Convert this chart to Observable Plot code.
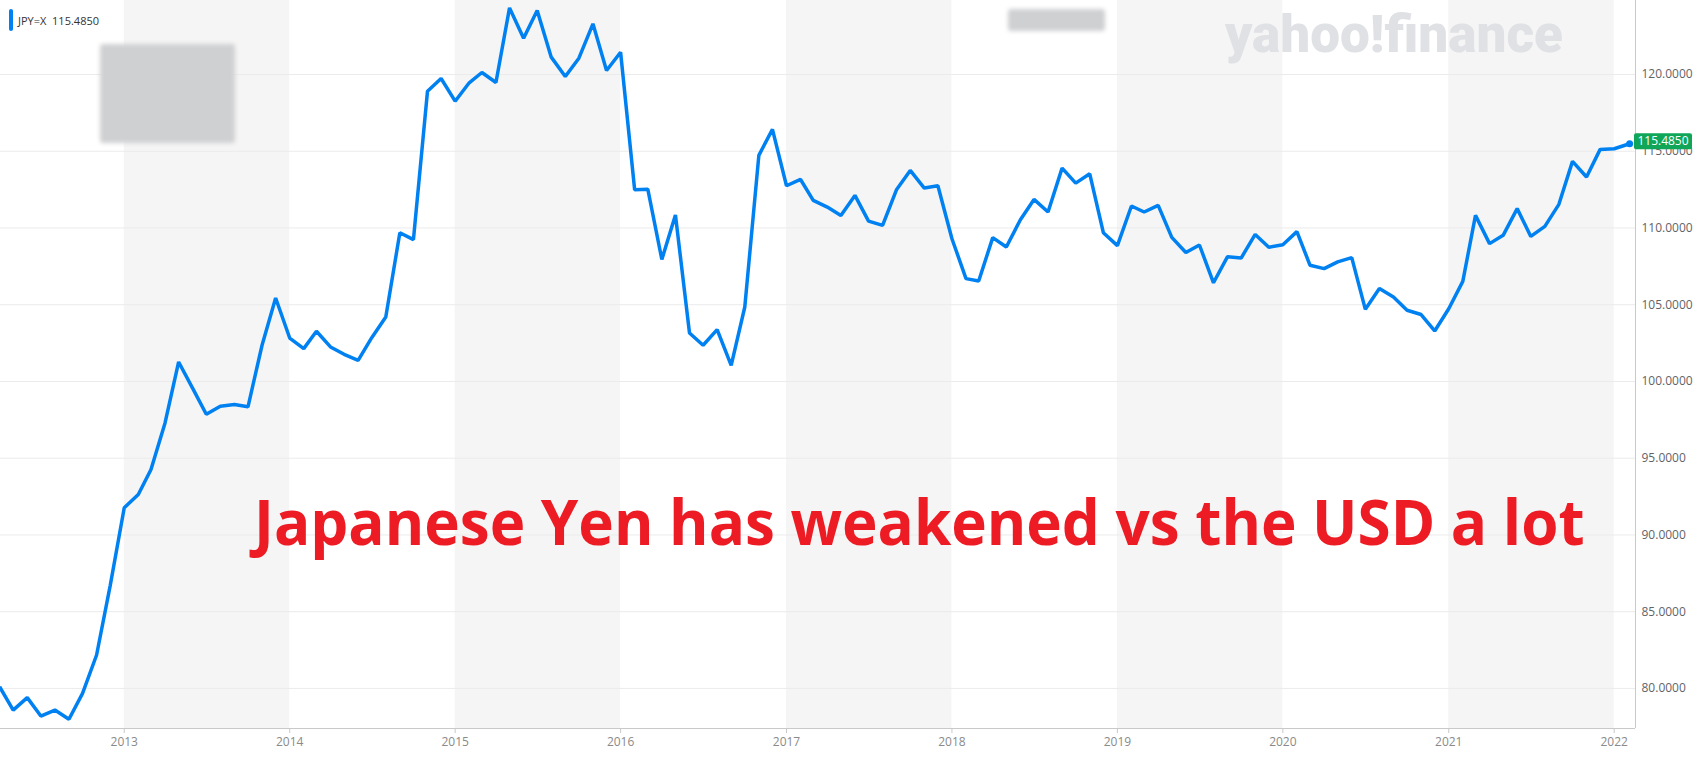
<!DOCTYPE html>
<html><head><meta charset="utf-8">
<script src="https://cdn.jsdelivr.net/npm/d3@7"></script>
<script src="https://cdn.jsdelivr.net/npm/@observablehq/plot@0.6"></script>
<style>
html,body{margin:0;padding:0;background:#fff;}
#wrap{position:relative;width:1700px;height:782px;overflow:hidden;font-family:"Open Sans",sans-serif;}
#wrap > svg{display:block;position:absolute;left:0;top:0;}
.blur{position:absolute;background:#cfd0d2;filter:blur(2px);border-radius:3px;}
#legend{position:absolute;left:9px;top:9px;height:22px;display:flex;align-items:center;font-size:11px;color:#333;font-family:"Open Sans",sans-serif;}
#legend .bar{width:4px;height:22px;background:#0081f2;border-radius:2px;margin-right:5px;}
</style></head><body><div id="wrap"></div>
<script>
const dates = [
"2012-04-01","2012-05-01","2012-06-01","2012-07-01","2012-08-01","2012-09-01","2012-10-01","2012-11-01","2012-12-01",
"2013-01-01","2013-02-01","2013-03-01","2013-04-01","2013-05-01","2013-06-01","2013-07-01","2013-08-01","2013-09-01","2013-10-01","2013-11-01","2013-12-01",
"2014-01-01","2014-02-01","2014-03-01","2014-04-01","2014-05-01","2014-06-01","2014-07-01","2014-08-01","2014-09-01","2014-10-01","2014-11-01","2014-12-01",
"2015-01-01","2015-02-01","2015-03-01","2015-04-01","2015-05-01","2015-06-01","2015-07-01","2015-08-01","2015-09-01","2015-10-01","2015-11-01","2015-12-01",
"2016-01-01","2016-02-01","2016-03-01","2016-04-01","2016-05-01","2016-06-01","2016-07-01","2016-08-01","2016-09-01","2016-10-01","2016-11-01","2016-12-01",
"2017-01-01","2017-02-01","2017-03-01","2017-04-01","2017-05-01","2017-06-01","2017-07-01","2017-08-01","2017-09-01","2017-10-01","2017-11-01","2017-12-01",
"2018-01-01","2018-02-01","2018-03-01","2018-04-01","2018-05-01","2018-06-01","2018-07-01","2018-08-01","2018-09-01","2018-10-01","2018-11-01","2018-12-01",
"2019-01-01","2019-02-01","2019-03-01","2019-04-01","2019-05-01","2019-06-01","2019-07-01","2019-08-01","2019-09-01","2019-10-01","2019-11-01","2019-12-01",
"2020-01-01","2020-02-01","2020-03-01","2020-04-01","2020-05-01","2020-06-01","2020-07-01","2020-08-01","2020-09-01","2020-10-01","2020-11-01","2020-12-01",
"2021-01-01","2021-02-01","2021-03-01","2021-04-01","2021-05-01","2021-06-01","2021-07-01","2021-08-01","2021-09-01","2021-10-01","2021-11-01","2021-12-01",
"2022-01-01","2022-02-04"
];
const closes = [
80.11,78.59,79.40,78.20,78.59,77.99,79.68,82.18,86.70,
91.77,92.64,94.26,97.30,101.27,99.55,97.86,98.39,98.50,98.35,102.36,105.44,
102.83,102.14,103.27,102.25,101.77,101.38,102.85,104.20,109.69,109.24,118.91,119.74,
118.26,119.46,120.13,119.48,124.34,122.36,124.17,121.13,119.87,121.06,123.30,120.26,
121.45,112.49,112.53,107.95,110.85,103.16,102.36,103.38,101.05,104.85,114.73,116.42,
112.75,113.16,111.80,111.36,110.82,112.12,110.45,110.17,112.51,113.75,112.60,112.75,
109.30,106.70,106.54,109.37,108.76,110.54,111.86,111.04,113.90,112.92,113.53,109.69,
108.85,111.43,111.04,111.47,109.39,108.40,108.89,106.43,108.13,108.04,109.58,108.74,
108.91,109.76,107.57,107.35,107.79,108.07,104.70,106.05,105.50,104.64,104.36,103.29,
104.74,106.52,110.82,108.98,109.52,111.26,109.45,110.10,111.54,114.34,113.32,115.12,
115.16,115.485
];
const shadedYears = [2013, 2015, 2017, 2019, 2021];
const yTicks = [80, 85, 90, 95, 100, 105, 110, 115, 120];
const seriesName = "JPY=X";
const lastLabel = "115.4850";
const headline = "Japanese Yen has weakened vs the USD a lot";
const brand = "yahoo!finance";

const data = dates.map((d, i) => ({date: new Date(d), close: closes[i]}));
const bands = shadedYears.map(y => ({x1: new Date(Date.UTC(y, 0, 1)), x2: new Date(Date.UTC(y + 1, 0, 1))}));
const last = data[data.length - 1];

const axisLines = (index, scales, values, dim) => {
  const g = d3.create("svg:g");
  const x0 = dim.marginLeft, x1 = dim.width - dim.marginRight;
  const y0 = dim.marginTop, y1 = dim.height - dim.marginBottom;
  g.append("line").attr("x1", x0).attr("x2", x1).attr("y1", y1 + 0.5).attr("y2", y1 + 0.5).attr("stroke", "#c9c9c9");
  g.append("line").attr("x1", x1 + 0.5).attr("x2", x1 + 0.5).attr("y1", y0).attr("y2", y1).attr("stroke", "#c9c9c9");
  return g.node();
};
const valueTag = (index, scales, values, dim) => {
  const g = d3.create("svg:g");
  const x = dim.width - dim.marginRight - 1;
  const y = scales.y(last.close) - 2;
  g.append("rect").attr("x", x).attr("y", y - 8).attr("width", 58).attr("height", 16).attr("rx", 2).attr("fill", "#0fa65a");
  g.append("text").attr("x", x + 29).attr("y", y).attr("dy", "0.35em").attr("text-anchor", "middle")
    .attr("fill", "#fff").attr("font-size", 12).attr("font-family", "Open Sans").text(lastLabel);
  return g.node();
};

const chart = Plot.plot({
  width: 1700, height: 782,
  marginTop: 0, marginBottom: 54, marginLeft: 0, marginRight: 65,
  style: {fontFamily: "Open Sans", fontSize: "12px", background: "transparent", overflow: "visible"},
  x: {type: "utc", domain: [new Date("2012-04-03"), new Date("2022-02-17")]},
  y: {domain: [77.39, 124.82]},
  marks: [
    Plot.rect(bands, {x1: "x1", x2: "x2", fill: "#f5f5f5"}),
    Plot.gridY(yTicks, {stroke: "#ebebeb", strokeOpacity: 1}),
    Plot.axisX({ticks: d3.utcYear.every(1), tickFormat: d3.utcFormat("%Y"), tickSize: 5, tickPadding: 4,
      stroke: "#c9c9c9", fill: "#8a8a8a", fontSize: 12, label: null}),
    Plot.axisY(yTicks, {anchor: "right", tickSize: 0, tickPadding: 6, tickFormat: d3.format(".4f"),
      fill: "#5f6368", fontSize: 12, label: null}),
    axisLines,
    Plot.line(data, {x: "date", y: "close", stroke: "#0081f2", strokeWidth: 3.5, strokeLinejoin: "miter", strokeLinecap: "butt"}),
    Plot.dot([last], {x: "date", y: "close", r: 3.5, fill: "#0081f2"}),
    valueTag
  ]
});

const wrap = document.getElementById("wrap");
wrap.appendChild(chart);

// decorations
const blur1 = document.createElement("div"); blur1.className = "blur";
Object.assign(blur1.style, {left: "100px", top: "44px", width: "135px", height: "99px"});
const blur2 = document.createElement("div"); blur2.className = "blur";
Object.assign(blur2.style, {left: "1008px", top: "9px", width: "97px", height: "22px"});
wrap.appendChild(blur1); wrap.appendChild(blur2);

const legend = document.createElement("div"); legend.id = "legend";
legend.innerHTML = `<span class="bar"></span><span>${seriesName}&nbsp;&nbsp;${lastLabel}</span>`;
wrap.appendChild(legend);

const ov = d3.select(wrap).append("svg").attr("width", 1700).attr("height", 782).style("pointer-events", "none");
function fitText(sel, x, y, width) {
  const w = sel.node().getComputedTextLength();
  const s = w > 0 ? width / w : 1;
  sel.attr("transform", `translate(${x},${y}) scale(${s},1)`);
}
const logo = ov.append("text").attr("x", 0).attr("y", 0).attr("font-family", "Roboto").attr("font-weight", 900)
  .attr("font-size", 51).attr("fill", "#dfe1e5").text(brand);
fitText(logo, 1225, 52, 338);
const head = ov.append("text").attr("x", 0).attr("y", 0).attr("font-family", "Open Sans").attr("font-weight", 700)
  .attr("font-size", 62).attr("fill", "#ed1c24").text(headline);
fitText(head, 254, 545, 1331);
</script>
</body></html>
